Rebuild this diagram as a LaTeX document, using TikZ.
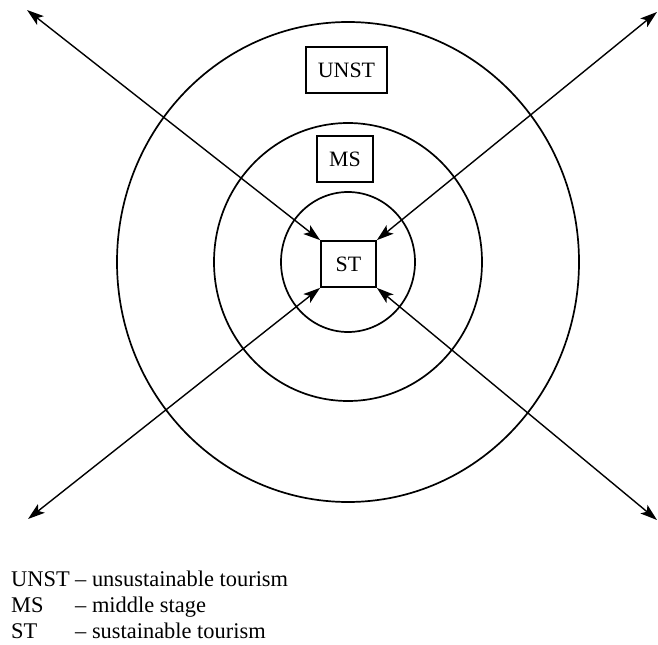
\documentclass[tikz,border=0pt]{standalone}
\usepackage{fontspec}
\setmainfont{Liberation Serif}
\usetikzlibrary{arrows.meta}
\begin{document}
\begin{tikzpicture}[x=1bp,y=-1bp,
  ring/.style={line width=1.7bp},
  stage/.style={draw,line width=1.7bp,inner sep=0pt,minimum height=46bp,font=\fontsize{22}{26}\selectfont},
  link/.style={line width=1.4bp,{Stealth[length=17bp,width=11bp,inset=4bp]}-{Stealth[length=17bp,width=11bp,inset=4bp]}},
  legend/.style={anchor=base west,inner sep=0pt,font=\fontsize{22.5}{27}\selectfont}]
  \useasboundingbox (0,0) rectangle (658,645);

  %Circles
  \coordinate (Centre) at (348,262);
  \draw[ring] (Centre) ellipse [x radius=231, y radius=240];
  \draw[ring] (Centre) ellipse [x radius=134, y radius=139];
  \draw[ring] (Centre) ellipse [x radius=67, y radius=70];

  %Stages
  \node[stage,minimum width=55bp] (St) at (348.5,264) {ST};
  \node[stage,minimum width=56bp] (Ms) at (345,159) {MS};
  \node[stage,minimum width=81bp] (Unst) at (346.5,70) {UNST};

  %Arrows
  \coordinate (TopLeft) at (27,10);
  \coordinate (TopRight) at (657,12);
  \coordinate (BottomLeft) at (28,519);
  \coordinate (BottomRight) at (657,520);
  \draw[link] (TopLeft) -- (St.north west);
  \draw[link] (TopRight) -- (St.north east);
  \draw[link] (BottomLeft) -- (St.south west);
  \draw[link] (BottomRight) -- (St.south east);

  %Legend
  \node[legend] (KeyUnst) at (11,586) {UNST};
  \node[legend] (TextUnst) at (75,586) {– unsustainable tourism};
  \node[legend] (KeyMs) at (11,612) {MS};
  \node[legend] (TextMs) at (75,612) {– middle stage};
  \node[legend] (KeySt) at (11,638) {ST};
  \node[legend] (TextSt) at (75,638) {– sustainable tourism};
\end{tikzpicture}
\end{document}
